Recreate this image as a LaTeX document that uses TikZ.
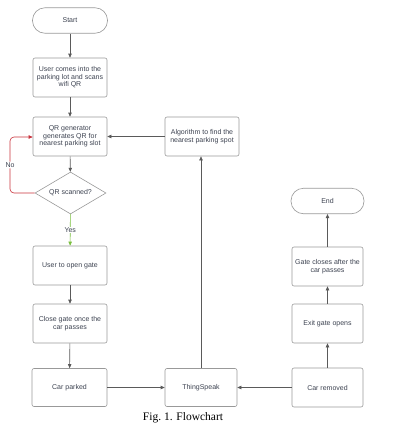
\documentclass[tikz,border=0pt]{standalone}
\usepackage{fontspec}
\setmainfont{Liberation Serif}
\newfontfamily\boxfont{Liberation Sans}
\usetikzlibrary{shapes.geometric, arrows.meta}
\definecolor{txtgray}{RGB}{60,66,80}
\definecolor{linegray}{RGB}{90,90,90}
\definecolor{noRed}{RGB}{200,50,60}
\definecolor{yesGreen}{RGB}{120,190,60}

\begin{document}
\begin{tikzpicture}[x=1pt, y=-1pt, >={Triangle[length=4pt,width=3.4pt]},
    proc/.style={draw=black!40, line width=0.6pt, rounded corners=2pt, minimum width=74pt,
        minimum height=39pt, inner sep=1pt, align=center, text=txtgray,
        font=\boxfont\fontsize{7}{7.6}\selectfont},
    term/.style={proc, rounded corners=12.5pt, minimum height=25.5pt, minimum width=75pt},
    decide/.style={diamond, aspect=1.7, draw=black!40, line width=0.6pt, inner sep=0pt,
        minimum width=71pt, minimum height=42pt, text=txtgray, font=\boxfont\fontsize{7}{7.6}\selectfont},
    link/.style={->, draw=linegray, line width=0.6pt},
    lbl/.style={fill=white, inner sep=1pt, text=txtgray, font=\boxfont\fontsize{7}{7.6}\selectfont}]
    \useasboundingbox (0,0) rectangle (402,429);
\node[term] (start) at (70,20.5) {Start};
\node[proc] (user) at (70,77.5) {User comes into the\\parking lot and scans\\wifi QR};
\node[proc] (qrgen) at (70,136.5) {QR generator\\generates QR for\\nearest parking slot};
\node[decide] (scan) at (70.5,193) {QR scanned?};
\node[proc] (open) at (70,265.5) {User to open gate};
\node[proc] (close) at (70,323.5) {Close gate once the\\car passes};
\node[proc, minimum width=75pt, minimum height=38pt] (parked) at (69.5,387.5) {Car parked};
\node[proc, minimum width=72pt, minimum height=38pt] (thing) at (201,387.5) {ThingSpeak};
\node[proc, minimum width=71pt] (removed) at (327.5,387.5) {Car removed};
\node[proc, minimum width=71pt] (exit) at (327.5,323.5) {Exit gate opens};
\node[proc, minimum width=71pt] (gclose) at (327.5,266.5) {Gate closes after the\\car passes};
\node[term, minimum width=73pt] (end) at (327.5,201) {End};
\node[proc] (algo) at (202,136.5) {Algorithm to find the\\nearest parking spot};
\node[font=\fontsize{11.5}{13}\selectfont, inner sep=0pt] (cap) at (183,417.5) {Fig.~1. Flowchart};

\draw[link] (start) -- (user);
\draw[link] (user) -- (qrgen);
\draw[link] (qrgen) -- (scan);
\draw[link, draw=yesGreen] (scan) -- node[lbl]{Yes} (open);
\draw[link, draw=noRed, rounded corners=4pt] (scan.west) -- (10,193) -- node[lbl]{No} (10,137) -- (qrgen.west |- 0,137);
\draw[link] (open) -- (close);
\draw[link] (close) -- (parked);
\draw[link] (parked) -- (thing);
\draw[link] (removed) -- (thing);
\draw[link] (thing) -- (algo.south -| thing);
\draw[link] (algo) -- (qrgen);
\draw[link] (removed) -- (exit);
\draw[link] (exit) -- (gclose);
\draw[link] (gclose) -- (end);
\end{tikzpicture}
\end{document}
